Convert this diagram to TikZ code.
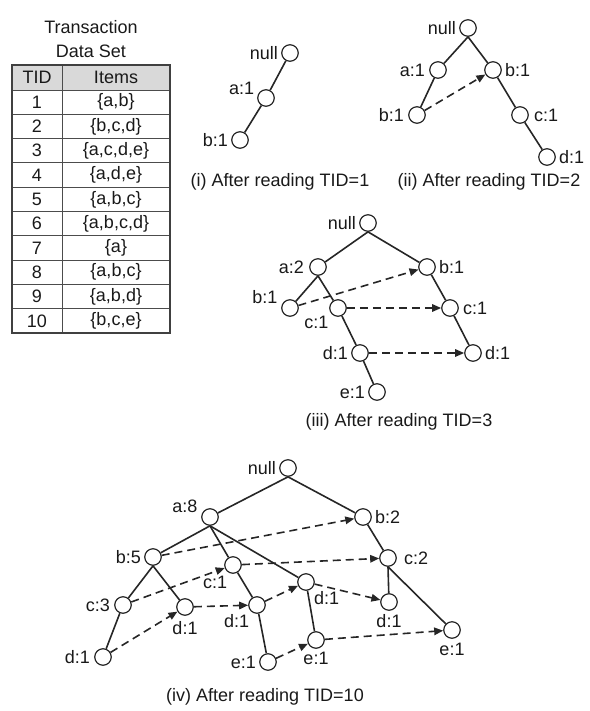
\documentclass[tikz,border=0pt]{standalone}
\usepackage{fontspec}
\setmainfont{Liberation Sans}
\usetikzlibrary{arrows.meta}
\tikzset{
  nd/.style={circle, draw=black!85, line width=1.2pt, fill=white, minimum size=16.5pt, inner sep=0pt},
  edge/.style={draw=black!85, line width=1.6pt},
  link/.style={draw=black!85, line width=1.6pt, dash pattern=on 8pt off 5pt, -{Triangle[length=9pt,width=7.5pt]}},
  captxt/.style={text=black!90, inner sep=0pt},
  cell/.style={draw=black!70, line width=0.9pt, inner sep=0pt, text=black!90},
  every label/.style={text=black!90, inner sep=1pt},
}
\begin{document}
\begin{tikzpicture}[x=1pt, y=-1pt, font=\fontsize{18}{20}\selectfont, label distance=2pt]
\useasboundingbox (0,0) rectangle (589,711);

% ---------- table ----------
\node[captxt] (title1) at (91,27) {Transaction};
\node[captxt] (title2) at (91,51) {Data Set};
\node[cell, fill=gray!30, minimum width=50pt, minimum height=25pt] (h1) at (37,77.5) {TID};
\node[cell, fill=gray!30, minimum width=108pt, minimum height=25pt] (h2) at (116,77.5) {Items};
\foreach \i/\t in {1/{\{a,b\}},2/{\{b,c,d\}},3/{\{a,c,d,e\}},4/{\{a,d,e\}},5/{\{a,b,c\}},6/{\{a,b,c,d\}},7/{\{a\}},8/{\{a,b,c\}},9/{\{a,b,d\}},10/{\{b,c,e\}}}{
  \node[cell, minimum width=50pt, minimum height=24.3pt] (t\i) at (37,{90+24.3*(\i-0.5)}) {\i};
  \node[cell, minimum width=108pt, minimum height=24.3pt] (s\i) at (116,{90+24.3*(\i-0.5)}) {\t};
}
\draw[draw=black!75, line width=1.3pt] (12,65) rectangle (170,333);

% ---------- tree (i) ----------
\node[nd, label={left:{null}}] (A0) at (290,53) {};
\node[nd, label={170:{a:1}}] (Aa) at (266,98) {};
\node[nd, label={left:{b:1}}] (Ab) at (240,140) {};
\draw[edge] (A0) -- (Aa);
\draw[edge] (Aa) -- (Ab);
\node[captxt] (capA) at (280,182) {(i) After reading TID=1};

% ---------- tree (ii) ----------
\node[nd, label={left:{null}}] (B0) at (468,28) {};
\node[nd, label={[label distance=3pt]left:{a:1}}] (Ba) at (438,70) {};
\node[nd, label={right:{b:1}}] (Bb) at (493,70) {};
\node[nd, label={[label distance=3pt]left:{b:1}}] (Bab) at (417,115) {};
\node[nd, label={[label distance=4pt]right:{c:1}}] (Bbc) at (520,115) {};
\node[nd, label={right:{d:1}}] (Bbcd) at (547,157) {};
\draw[edge] (B0.south) -- (Ba);
\draw[edge] (B0.south) -- (Bb);
\draw[edge] (Ba) -- (Bab);
\draw[edge] (Bb) -- (Bbc);
\draw[edge] (Bbc) -- (Bbcd);
\draw[link] (Bab) -- (Bb);
\node[captxt] (capB) at (489,182) {(ii) After reading TID=2};

% ---------- tree (iii) ----------
\node[nd, label={left:{null}}] (C0) at (368,223) {};
\node[nd, label={[label distance=4pt]left:{a:2}}] (Ca) at (318,267) {};
\node[nd, label={right:{b:1}}] (Cb) at (427,267) {};
\node[nd, label={[label distance=3pt]163:{b:1}}] (Cab) at (290,308) {};
\node[nd, label={220:{c:1}}] (Cac) at (338,308) {};
\node[nd, label={[label distance=3pt]right:{c:1}}] (Cbc) at (450,308) {};
\node[nd, label={left:{d:1}}] (Cacd) at (360,353) {};
\node[nd, label={right:{d:1}}] (Cbcd) at (473,353) {};
\node[nd, label={left:{e:1}}] (Cacde) at (377,392) {};
\draw[edge] (C0.south) -- (Ca);
\draw[edge] (C0.south) -- (Cb);
\draw[edge] (Ca.south) -- (Cab);
\draw[edge] (Ca.south) -- (Cac);
\draw[edge] (Cac) -- (Cacd);
\draw[edge] (Cacd) -- (Cacde);
\draw[edge] (Cb) -- (Cbc);
\draw[edge] (Cbc) -- (Cbcd);
\draw[link] (Cab) -- (Cb);
\draw[link] (Cac) -- (Cbc);
\draw[link] (Cacd) -- (Cbcd);
\node[captxt] (capC) at (399,422) {(iii) After reading TID=3};

% ---------- tree (iv) ----------
\node[nd, label={left:{null}}] (D0) at (288,468) {};
\node[nd, label={[label distance=3pt]165:{a:8}}] (Da) at (210,517) {};
\node[nd, label={left:{b:5}}] (Dab) at (153,557) {};
\node[nd, label={245:{c:1}}] (Dac) at (233,565) {};
\node[nd, label={[label distance=3pt]left:{c:3}}] (Dabc) at (123,605) {};
\node[nd, label={[label distance=4pt]below:{d:1}}] (Dabd) at (185,607) {};
\node[nd, label={232:{d:1}}] (Dacd) at (257,605) {};
\node[nd, label={310:{d:1}}] (Dad) at (306,582) {};
\node[nd, label={[label distance=3pt]left:{d:1}}] (Dabcd) at (103,657) {};
\node[nd, label={left:{e:1}}] (Dacde) at (268,662) {};
\node[nd, label={below:{e:1}}] (Dade) at (316,640) {};
\node[nd, label={right:{b:2}}] (Db) at (363,517) {};
\node[nd, label={[label distance=6pt]right:{c:2}}] (Dbc) at (388,558) {};
\node[nd, label={below:{d:1}}] (Dbcd) at (389,602) {};
\node[nd, label={[label distance=3pt]below:{e:1}}] (Dbce) at (452,630) {};
\draw[edge] (D0.south) -- (Da);
\draw[edge] (D0.south) -- (Db);
\draw[edge] (Da.south) -- (Dab);
\draw[edge] (Da.south) -- (Dac);
\draw[edge] (Da.south) -- (Dad);
\draw[edge] (Dab.south) -- (Dabc);
\draw[edge] (Dab.south) -- (Dabd);
\draw[edge] (Dabc) -- (Dabcd);
\draw[edge] (Dac) -- (Dacd);
\draw[edge] (Dacd) -- (Dacde);
\draw[edge] (Dad) -- (Dade);
\draw[edge] (Db) -- (Dbc);
\draw[edge] (Dbc.south) -- (Dbcd);
\draw[edge] (Dbc.south) -- (Dbce);
\draw[link] (Dab) -- (Db);
\draw[link] (Dabc) -- (Dac);
\draw[link] (Dac) -- (Dbc);
\draw[link] (Dabcd) -- (Dabd);
\draw[link] (Dabd) -- (Dacd);
\draw[link] (Dacd) -- (Dad);
\draw[link] (Dad) -- (Dbcd);
\draw[link] (Dacde) -- (Dade);
\draw[link] (Dade) -- (Dbce);
\node[captxt] (capD) at (265,697) {(iv) After reading TID=10};
\end{tikzpicture}
\end{document}
